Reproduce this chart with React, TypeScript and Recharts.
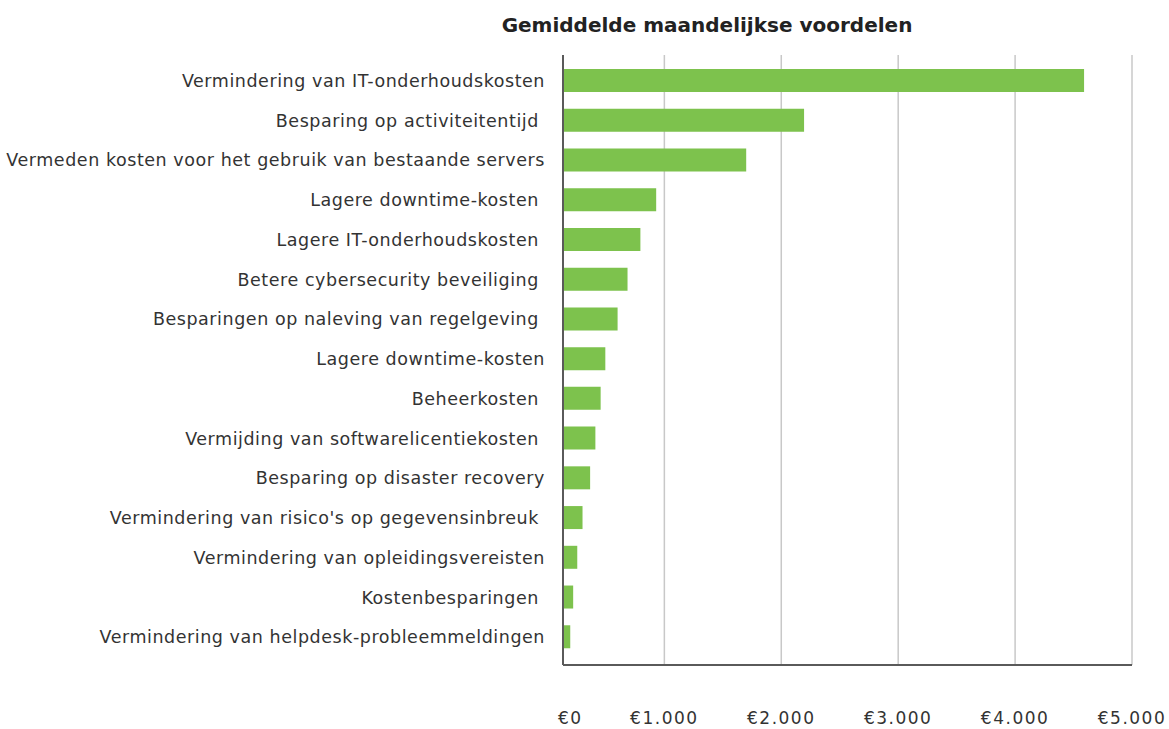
import React from 'react';
import { BarChart, Bar, XAxis, YAxis, CartesianGrid } from 'recharts';

const title = 'Gemiddelde maandelijkse voordelen';

// Category labels (some carry a trailing space, as in the reference)
const categories = [
  'Vermindering van IT-onderhoudskosten',
  'Besparing op activiteitentijd ',
  'Vermeden kosten voor het gebruik van bestaande servers',
  'Lagere downtime-kosten ',
  'Lagere IT-onderhoudskosten ',
  'Betere cybersecurity beveiliging ',
  'Besparingen op naleving van regelgeving ',
  'Lagere downtime-kosten',
  'Beheerkosten ',
  'Vermijding van softwarelicentiekosten ',
  'Besparing op disaster recovery',
  "Vermindering van risico's op gegevensinbreuk ",
  'Vermindering van opleidingsvereisten',
  'Kostenbesparingen ',
  'Vermindering van helpdesk-probleemmeldingen',
];

// Average monthly benefit in euro
const values = [4590, 2195, 1700, 930, 795, 685, 600, 495, 455, 410, 365, 300, 255, 220, 195];

// The reference draws its value axis line slightly right of the zero point
const AXIS_MIN = 133;
const AXIS_MAX = 5000;
const xTickValues = [AXIS_MIN, 1000, 2000, 3000, 4000, 5000];
const xTickLabels = ['€0', '€1.000', '€2.000', '€3.000', '€4.000', '€5.000'];

const data = categories.map((name, i) => ({ id: i, name, value: values[i] }));

const FONT = '"DejaVu Sans", sans-serif';
const TEXT_COLOR = '#333333';

const YTick = (props: any) => {
  const { x, y, payload } = props;
  const label = categories[payload.value];
  return (
    <text
      x={x - 18}
      y={y}
      dy="0.35em"
      textAnchor="end"
      fill={TEXT_COLOR}
      fontFamily={FONT}
      fontSize={17.5}
      letterSpacing={0.55}
      style={{ whiteSpace: 'pre' }}
    >
      {label}
    </text>
  );
};

const XTick = (props: any) => {
  const { x, y, index } = props;
  const first = index === 0;
  return (
    <text
      x={first ? x - 5 : x}
      y={y + 59}
      textAnchor={first ? 'start' : 'middle'}
      fill={TEXT_COLOR}
      fontFamily={FONT}
      fontSize={17}
      letterSpacing={1.5}
    >
      {xTickLabels[index]}
    </text>
  );
};

export default function App() {
  return (
    <div style={{ position: 'absolute', left: 0, top: 0, width: 1169, height: 729, background: '#ffffff' }}>
      <div
        style={{
          position: 'absolute',
          left: 407,
          top: 13,
          width: 600,
          textAlign: 'center',
          fontFamily: FONT,
          fontWeight: 700,
          fontSize: 20,
          lineHeight: '24px',
          color: '#222222',
        }}
      >
        {title}
      </div>
      <BarChart
        width={1169}
        height={729}
        data={data}
        layout="vertical"
        margin={{ top: 55, right: 37, bottom: 0, left: 0 }}
        barSize={23}
      >
        <CartesianGrid horizontal={false} stroke="#c8c8c8" strokeWidth={1.5} />
        <XAxis
          type="number"
          domain={[AXIS_MIN, AXIS_MAX]}
          ticks={xTickValues}
          allowDataOverflow
          height={64}
          tickSize={0}
          tickMargin={0}
          axisLine={{ stroke: '#5a5a5a', strokeWidth: 2 }}
          tickLine={false}
          tick={<XTick />}
          interval={0}
        />
        <YAxis
          type="category"
          dataKey="id"
          width={563}
          tickSize={0}
          tickMargin={0}
          axisLine={{ stroke: '#5a5a5a', strokeWidth: 2 }}
          tickLine={false}
          tick={<YTick />}
          interval={0}
          padding={{ top: 6, bottom: 8 }}
        />
        <Bar dataKey="value" fill="#7dc24d" isAnimationActive={false} />
      </BarChart>
    </div>
  );
}
